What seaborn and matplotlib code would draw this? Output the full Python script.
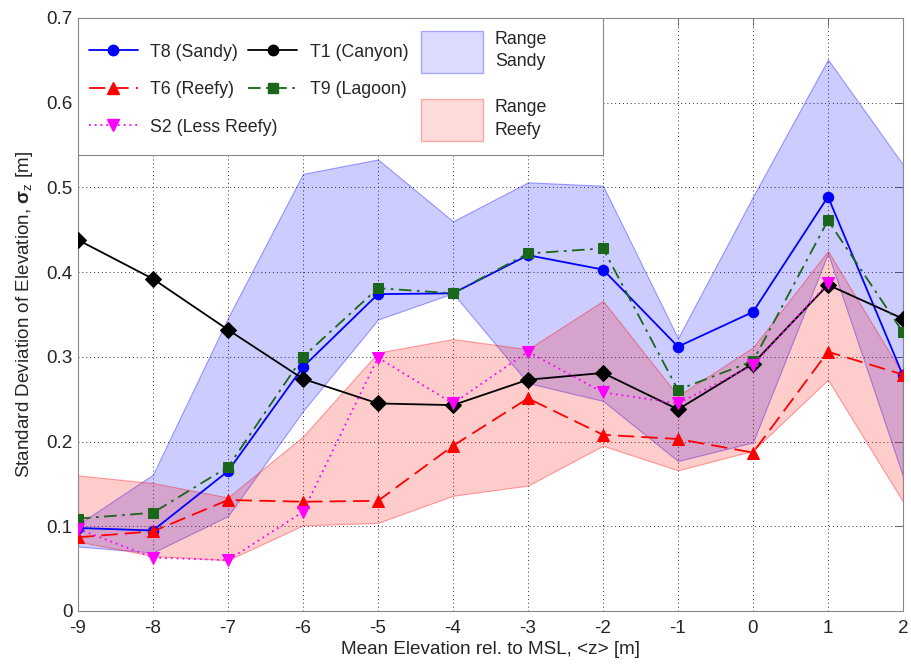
import numpy as np
import pandas as pd
import matplotlib
matplotlib.use("Agg")
import matplotlib.pyplot as plt
import matplotlib.patches as mpatches
import matplotlib.transforms as mtransforms
from matplotlib.lines import Line2D
import seaborn as sns

# mean elevation bins
z = [-9, -8, -7, -6, -5, -4, -3, -2, -1, 0, 1, 2]

# std of elevation per transect
t8_sandy = [0.098, 0.095, 0.165, 0.288, 0.374, 0.375, 0.420, 0.403, 0.312, 0.353, 0.489, 0.278]
t1_canyon = [0.438, 0.392, 0.332, 0.274, 0.245, 0.243, 0.273, 0.281, 0.238, 0.292, 0.385, 0.345]
t6_reefy = [0.087, 0.094, 0.131, 0.129, 0.130, 0.195, 0.251, 0.208, 0.203, 0.187, 0.306, 0.279]
t9_lagoon = [0.109, 0.116, 0.170, 0.300, 0.381, 0.375, 0.422, 0.428, 0.261, 0.295, 0.461, 0.329]
s2_less_reefy = [0.097, 0.063, 0.060, 0.117, 0.299, 0.245, 0.306, 0.258, 0.245, 0.290, 0.387, np.nan]

# ranges
sandy_lo = [0.076, 0.069, 0.112, 0.236, 0.344, 0.375, 0.269, 0.248, 0.177, 0.199, 0.422, 0.159]
sandy_hi = [0.102, 0.161, 0.346, 0.516, 0.533, 0.460, 0.506, 0.502, 0.322, 0.489, 0.651, 0.527]
reefy_lo = [0.082, 0.065, 0.060, 0.101, 0.104, 0.136, 0.148, 0.195, 0.166, 0.189, 0.273, 0.129]
reefy_hi = [0.160, 0.151, 0.134, 0.206, 0.305, 0.321, 0.309, 0.366, 0.254, 0.311, 0.425, 0.279]

sns.set_style("white")
plt.rcParams["font.family"] = ["Liberation Sans", "DejaVu Sans"]
plt.rcParams["mathtext.fontset"] = "custom"
plt.rcParams["mathtext.rm"] = "Liberation Sans"
plt.rcParams["mathtext.bf"] = "Liberation Sans:bold"
plt.rcParams["mathtext.it"] = "Liberation Sans:italic"

FS = 13.6
LFS = 12.8

fig = plt.figure(figsize=(9.11, 6.66), dpi=100)
ax = fig.add_axes([0.0856, 0.0826, 0.9056, 0.8904])

ax.fill_between(z, sandy_lo, sandy_hi, facecolor=(0, 0, 1, 0.2),
                edgecolor=(0, 0, 1, 0.35), linewidth=0.8, zorder=1)
ax.fill_between(z, reefy_lo, reefy_hi, facecolor=(1, 0, 0, 0.2),
                edgecolor=(1, 0, 0, 0.35), linewidth=0.8, zorder=1)

df = pd.DataFrame({"z": z, "t8": t8_sandy, "t1": t1_canyon, "t6": t6_reefy,
                   "t9": t9_lagoon, "s2": s2_less_reefy})

green = "#1a661a"
series = [
    ("t8", "#0000ff", "-", "o", 7.5),
    ("t1", "#000000", "-", "D", 8.5),
    ("t6", "#ff0000", (0, (9, 4)), "^", 8.5),
    ("t9", green, (0, (7, 3, 1.5, 3)), "s", 6.5),
    ("s2", "#ff00ff", (0, (1, 2.2)), "v", 8.5),
]
for col, c, ls, mk, ms in series:
    sns.lineplot(data=df, x="z", y=col, ax=ax, color=c, linestyle=ls,
                 marker=mk, markersize=ms, markeredgecolor=c,
                 markerfacecolor=c, linewidth=1.3, zorder=3)

ax.set_xlim(-9, 2)
ax.set_ylim(0, 0.7)
ax.set_xticks(z)
ax.set_xticklabels([str(v) for v in z])
yt = [0, 0.1, 0.2, 0.3, 0.4, 0.5, 0.6, 0.7]
ax.set_yticks(yt)
ax.set_yticklabels(["0"] + [f"{v:.1f}" for v in yt[1:]])
ax.tick_params(direction="in", top=True, right=True, length=6,
               width=0.6, color="#555555", labelsize=FS)
ax.tick_params(axis="x", pad=6.5)
ax.tick_params(axis="y", pad=4)
ax.grid(True, linestyle=(0, (1, 3)), color="#333333", linewidth=0.7)
for s in ax.spines.values():
    s.set_color("#888888")
    s.set_linewidth(0.8)

ax.set_xlabel("Mean Elevation rel. to MSL, <z> [m]", fontsize=FS, labelpad=3)
ax.set_ylabel(r"Standard Deviation of Elevation, $\mathbf{\sigma}_{\mathrm{z}}$ [m]",
              fontsize=FS, labelpad=8)

# legend frame drawn by hand, two frameless legends inside it
frame = mpatches.Rectangle((0, 0.769), 0.636, 0.231, transform=ax.transAxes,
                           facecolor="white", edgecolor="#888888",
                           linewidth=0.8, zorder=4)
ax.add_patch(frame)

line_handles = [
    Line2D([], [], color="#0000ff", ls="-", marker="o", ms=7.5, lw=1.3),
    Line2D([], [], color="#ff0000", ls=(0, (9, 4)), marker="^", ms=8.5, lw=1.3),
    Line2D([], [], color="#ff00ff", ls=(0, (1, 2.2)), marker="v", ms=8.5, lw=1.3),
    Line2D([], [], color="#000000", ls="-", marker="o", ms=7.5, lw=1.3),
    Line2D([], [], color=green, ls=(0, (7, 3, 1.5, 3)), marker="s", ms=6.5, lw=1.3),
]
# S2 label is placed by hand below, so it can run under column 2 like the original
line_labels = ["T8 (Sandy)", "T6 (Reefy)", " ", "T1 (Canyon)", "T9 (Lagoon)"]
leg1 = ax.legend(line_handles, line_labels, ncol=2, loc="upper left",
                 bbox_to_anchor=(0.0133, 0.9567), bbox_transform=ax.transAxes,
                 fontsize=LFS, frameon=False, borderpad=0, borderaxespad=0,
                 handlelength=2.75, handletextpad=0.71, columnspacing=0.56,
                 labelspacing=1.15)
leg1.set_zorder(5)
ax.add_artist(leg1)

patch_handles = [
    mpatches.Patch(facecolor=(0, 0, 1, 0.14), edgecolor=(0, 0, 1, 0.3)),
    mpatches.Patch(facecolor=(1, 0, 0, 0.14), edgecolor=(1, 0, 0, 0.3)),
]
leg2 = ax.legend(patch_handles, ["Range\nSandy", "Range\nReefy"], loc="upper left",
                 bbox_to_anchor=(0.4158, 0.978), bbox_transform=ax.transAxes,
                 fontsize=LFS, frameon=False, borderpad=0, borderaxespad=0,
                 handlelength=3.48, handleheight=3.25, handletextpad=0.68,
                 labelspacing=1.48)
leg2.set_zorder(5)
for t in leg2.get_texts():
    t.set_linespacing(1.4)

fig.canvas.draw()
txts = leg1.get_texts()
bb0 = txts[0].get_window_extent()
bb1 = txts[1].get_window_extent()
step = bb0.y0 - bb1.y0
fig.text(bb1.x0, bb1.y0 - step, "S2 (Less Reefy)", fontsize=LFS,
         ha="left", va="bottom", transform=mtransforms.IdentityTransform(),
         zorder=10)

fig.savefig("out.png", dpi=100)
